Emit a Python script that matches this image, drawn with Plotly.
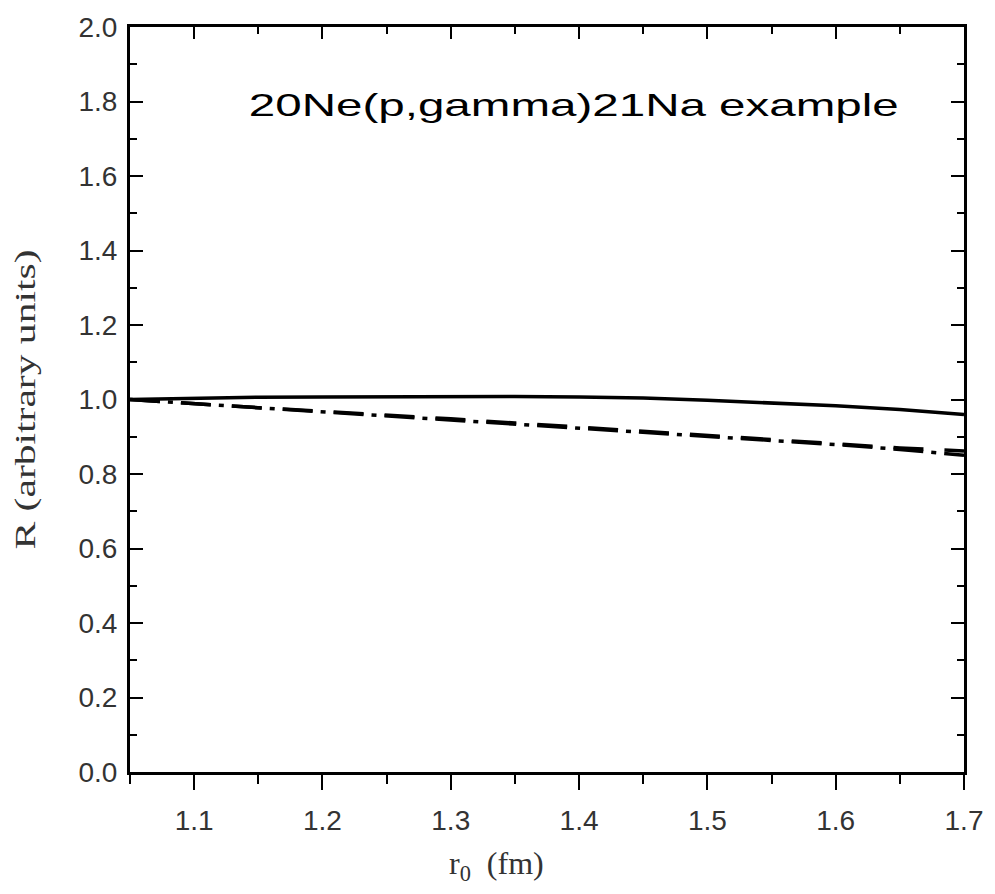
import plotly.graph_objects as go

# r0 grid (fm) and the ratio R for each curve
r0 = [1.05, 1.10, 1.15, 1.20, 1.25, 1.30, 1.35, 1.40, 1.45, 1.50, 1.55, 1.60, 1.65, 1.70]
r_solid = [1.000, 1.004, 1.006, 1.007, 1.008, 1.008, 1.008, 1.007, 1.004, 0.998, 0.991, 0.983, 0.973, 0.960]
r_dash = [1.000, 0.988, 0.978, 0.968, 0.959, 0.948, 0.937, 0.926, 0.915, 0.905, 0.893, 0.881, 0.870, 0.862]
r_dashdot = [1.000, 0.989, 0.979, 0.969, 0.958, 0.947, 0.936, 0.925, 0.914, 0.903, 0.891, 0.879, 0.866, 0.850]

x_ticks = [1.1, 1.2, 1.3, 1.4, 1.5, 1.6, 1.7]
y_ticks = [0.0, 0.2, 0.4, 0.6, 0.8, 1.0, 1.2, 1.4, 1.6, 1.8, 2.0]

title_text = "20Ne(p,gamma)21Na example"
x_title = "r<sub>0</sub>  (fm)"
y_title = "R (arbitrary units)"

fig = go.Figure()
fig.add_trace(go.Scatter(x=r0, y=r_solid, mode="lines",
                         line=dict(color="black", width=3.5), showlegend=False))
fig.add_trace(go.Scatter(x=r0, y=r_dash, mode="lines",
                         line=dict(color="black", width=3.5, dash="30px,21px"), showlegend=False))
fig.add_trace(go.Scatter(x=r0, y=r_dashdot, mode="lines",
                         line=dict(color="black", width=3.5, dash="30px,8px,5px,8px"), showlegend=False))
# empty trace to carry the top axis
fig.add_trace(go.Scatter(x=[r0[0]], y=[r_solid[0]], mode="lines", xaxis="x2",
                         line=dict(width=0), hoverinfo="skip", showlegend=False))

tick_font = dict(family="Liberation Sans, Arial, sans-serif", size=28, color="#333333")
serif = "Liberation Serif, Times New Roman, serif"

fig.update_layout(
    width=995, height=894,
    margin=dict(l=130, r=20, t=23, b=122),
    paper_bgcolor="white", plot_bgcolor="white",
    xaxis=dict(
        range=[1.05, 1.7], tickvals=x_ticks, tickformat=".1f",
        ticks="outside", ticklen=15, tickwidth=2, tickcolor="black",
        minor=dict(ticks="outside", ticklen=9, tickwidth=2, tickcolor="black",
                   tick0=1.05, dtick=0.05),
        showline=True, linewidth=3, linecolor="black",
        showgrid=False, zeroline=False, tickfont=tick_font,
        ticklabelstandoff=6,
    ),
    xaxis2=dict(
        range=[1.05, 1.7], overlaying="x", side="top", tickvals=x_ticks,
        ticks="inside", ticklen=12, tickwidth=2, tickcolor="black",
        minor=dict(ticks="inside", ticklen=7, tickwidth=2, tickcolor="black",
                   tick0=1.05, dtick=0.05),
        showticklabels=False, showline=True, linewidth=3, linecolor="black",
        showgrid=False, zeroline=False,
    ),
    yaxis=dict(
        range=[0, 2.0], tickvals=y_ticks, tickformat=".1f",
        ticks="inside", ticklen=13, tickwidth=2, tickcolor="black",
        minor=dict(ticks="inside", ticklen=7, tickwidth=2, tickcolor="black",
                   tick0=0, dtick=0.1),
        showline=True, linewidth=3, linecolor="black", mirror="ticks",
        showgrid=False, zeroline=False, tickfont=tick_font,
        ticklabelstandoff=4,
        title=dict(text=y_title, standoff=34,
                   font=dict(family=serif, size=30, color="#333333")),
    ),
    annotations=[
        dict(text=title_text, xref="x", yref="y", x=1.3958, y=1.79,
             xanchor="center", yanchor="middle", showarrow=False,
             font=dict(family="Liberation Sans, Arial, sans-serif", size=32, color="black")),
        dict(text=x_title, xref="paper", yref="paper", x=0.44, y=-0.095,
             xanchor="center", yanchor="top", showarrow=False,
             font=dict(family=serif, size=32, color="#333333")),
    ],
)

# the label text is set wide, stretched to its drawn width
post = """
var gd = document.getElementById('{plot_id}');
function widen() {
  var t = gd.querySelector('.annotation[data-index="0"] .annotation-text');
  if (t) {
    t.setAttribute('textLength', '650');
    t.setAttribute('lengthAdjust', 'spacingAndGlyphs');
  }
  gd.querySelectorAll('.ytitle').forEach(function (el) {
    el.setAttribute('textLength', '300');
    el.setAttribute('lengthAdjust', 'spacingAndGlyphs');
  });
}
widen();
gd.on('plotly_afterplot', widen);
"""

fig.write_html("out.html", post_script=post)
